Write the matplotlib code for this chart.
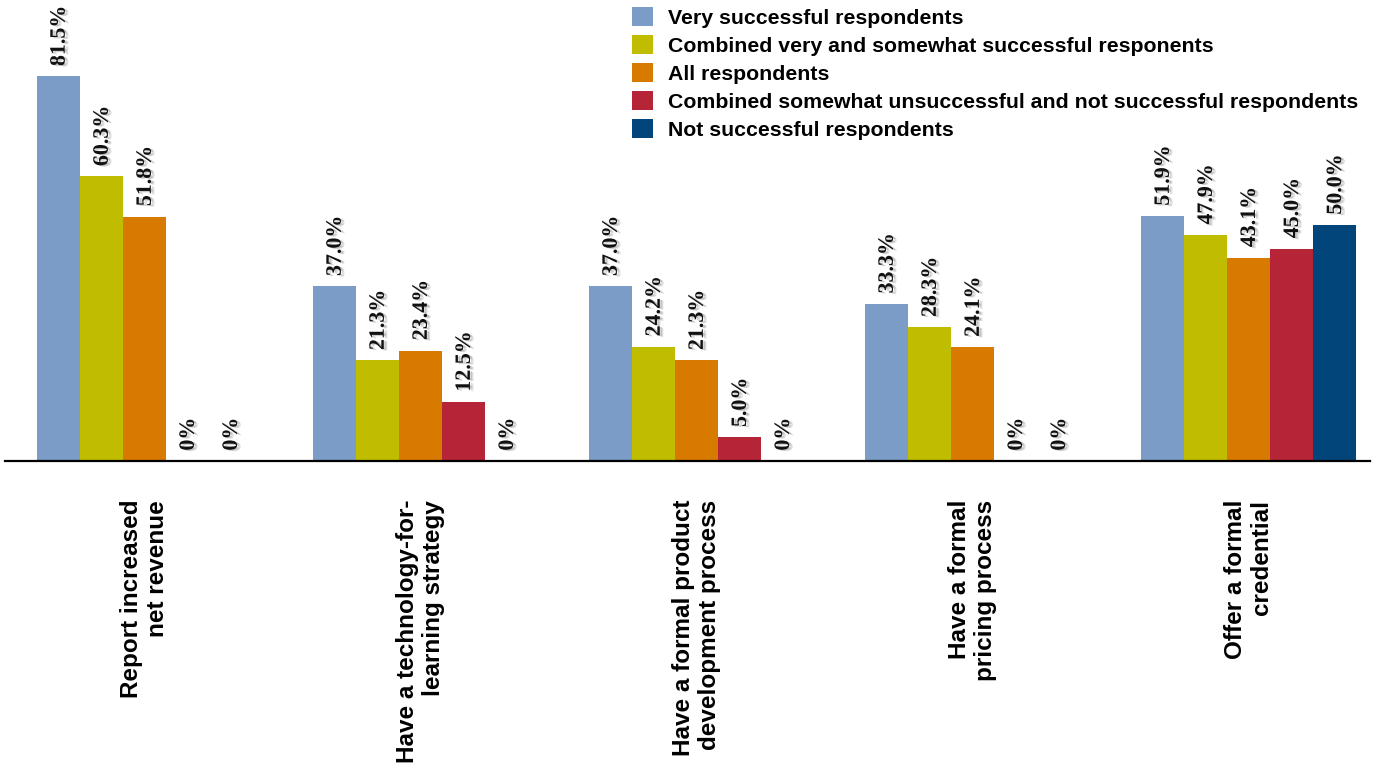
import matplotlib.pyplot as plt
import matplotlib.patheffects as pe
import numpy as np

categories = [
    "Report increased\nnet revenue",
    "Have a technology-for-\nlearning strategy",
    "Have a formal product\ndevelopment process",
    "Have a formal\npricing process",
    "Offer a formal\ncredential",
]
series_names = [
    "Very successful respondents",
    "Combined very and somewhat successful responents",
    "All respondents",
    "Combined somewhat unsuccessful and not successful respondents",
    "Not successful respondents",
]
very_successful = [81.5, 37.0, 37.0, 33.3, 51.9]
very_and_somewhat = [60.3, 21.3, 24.2, 28.3, 47.9]
all_respondents = [51.8, 23.4, 21.3, 24.1, 43.1]
somewhat_unsuccessful = [0, 12.5, 5.0, 0, 45.0]
not_successful = [0, 0, 0, 0, 50.0]
colors = ["#7A9CC6", "#C0BC00", "#D97A00", "#B52537", "#02457A"]

series = [very_successful, very_and_somewhat, all_respondents,
          somewhat_unsuccessful, not_successful]

fig = plt.figure(figsize=(13.95, 7.65), dpi=100)
ax = fig.add_axes([5 / 1395, (765 - 461) / 765, 1365 / 1395, 461 / 765])

x = np.arange(len(categories))
w = 0.156
# soft grey drop shadow behind the value labels
shadow = [pe.SimplePatchShadow(offset=(2.5, -1), shadow_rgbFace="#888888", alpha=0.3),
          pe.SimplePatchShadow(offset=(1.5, -0.5), shadow_rgbFace="#888888", alpha=0.3),
          pe.Normal()]

for j, vals in enumerate(series):
    pos = x + (j - 2) * w
    ax.bar(pos, vals, width=w, color=colors[j], label=series_names[j])
    for px, v in zip(pos, vals):
        txt = "0%" if v == 0 else f"{v:.1f}%"
        ax.annotate(txt, (px, v), xytext=(1, 7.5), textcoords="offset points",
                    rotation=90, ha="center", va="bottom",
                    fontsize=15.8, fontweight="bold", family="Liberation Serif",
                    color="#111111", path_effects=shadow)

ax.set_xlim(-0.505, 4.44)
ax.set_ylim(0, 97.7)
ax.set_yticks([])
ax.set_xticks(x)
ax.set_xticklabels(categories, rotation=90, fontsize=17.5, fontweight="bold",
                   family="Liberation Sans", multialignment="right")
ax.tick_params(axis="x", length=0, pad=28)
for s in ["top", "left", "right"]:
    ax.spines[s].set_visible(False)
ax.spines["bottom"].set_linewidth(1.6)

fig.legend(loc="upper left", bbox_to_anchor=(632 / 1395, 1 - 7 / 765),
           frameon=False, prop={"family": "Liberation Sans", "weight": "bold", "size": 15.3},
           handlelength=1.0, handleheight=1.0, handletextpad=0.7,
           labelspacing=0.34, borderpad=0, borderaxespad=0)

plt.savefig("out.png")
